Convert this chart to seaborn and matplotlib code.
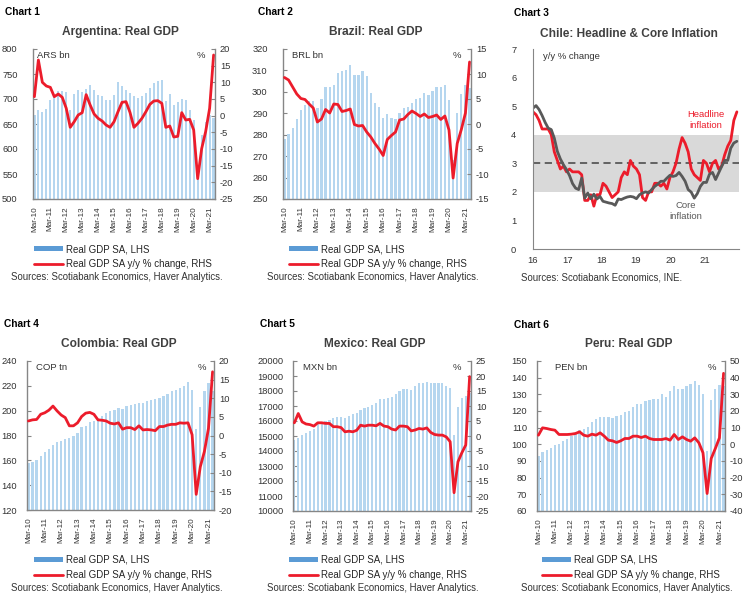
import numpy as np
import matplotlib
matplotlib.use('Agg')
import matplotlib.pyplot as plt
from matplotlib.patches import Patch
from matplotlib.lines import Line2D
import seaborn as sns

# quarterly x labels (Mar-10 .. Mar-21, data runs to Jun-21)
QUARTER_TICKS = ['Mar-10', 'Mar-11', 'Mar-12', 'Mar-13', 'Mar-14', 'Mar-15',
                 'Mar-16', 'Mar-17', 'Mar-18', 'Mar-19', 'Mar-20', 'Mar-21']
CHILE_TICKS = ['16', '17', '18', '19', '20', '21']

arg_gdp = [668, 679, 674, 681, 698, 708, 716, 716, 714, 678, 710, 719,
           714, 721, 728, 719, 708, 706, 698, 699, 708, 735, 726, 718,
           712, 706, 703, 706, 712, 722, 733, 737, 738, 697, 710, 689,
           694, 701, 698, 679, 659, 548, 628, 655, 668, 662]
arg_yoy = [5.7, 16.7, 10.0, 8.9, 8.5, 5.7, 6.5, 5.5, 2.2, -3.5, -1.8, 0.2,
           0.9, 6.3, 3.2, 0.5, -0.8, -1.6, -2.8, -3.5, -1.8, 1.2, 4.0, 4.2,
           1.0, -3.5, -2.3, -0.8, 1.2, 3.4, 4.4, 4.5, 3.7, -3.5, -3.1, -6.4,
           -6.2, 0.9, -1.3, -1.1, -4.3, -18.9, -9.9, -4.8, 2.2, 18.2]

bra_gdp = [277.8, 280.3, 283.3, 287.3, 291.3, 294.0, 295.5, 295.8, 292.3, 296.7, 302.2, 302.2,
           303.3, 308.8, 309.5, 310.0, 312.7, 308.0, 308.0, 309.5, 307.2, 299.4, 295.0, 292.8,
           287.7, 289.5, 287.7, 287.3, 290.3, 292.3, 292.8, 294.7, 296.6, 297.0, 299.4, 298.3,
           300.5, 302.2, 302.2, 303.0, 296.0, 268.0, 290.0, 299.0, 303.0, 302.0]
bra_yoy = [9.3, 8.8, 7.4, 6.0, 5.1, 4.9, 4.0, 3.2, 0.4, 1.0, 2.9, 2.2,
           4.0, 3.9, 2.5, 2.7, 3.0, -0.1, -0.4, -0.3, -1.6, -2.6, -3.9, -5.0,
           -6.3, -3.1, -2.3, -1.6, 0.8, 1.0, 1.9, 2.6, 2.1, 1.5, 2.0, 1.3,
           1.5, 1.8, 0.9, 1.6, -1.2, -10.8, -3.9, -1.1, 2.2, 12.4]

col_gdp = [158, 159, 160.5, 163.5, 167, 169.5, 172.5, 174.5, 175.5, 177, 178, 179.5,
           182, 186.5, 188, 190.5, 191.5, 193.5, 196, 198, 199.5, 200.5, 202.5, 201.5,
           203.5, 204.5, 205.5, 206.5, 206.5, 207.5, 208.5, 209, 210, 211.5, 213.5, 215.5,
           216.5, 218, 220, 223, 217, 185, 203, 215.5, 222, 216]
col_yoy = [3.9, 4.2, 4.3, 5.7, 6.1, 6.8, 7.9, 6.6, 5.5, 4.8, 2.6, 2.6,
           3.4, 5.1, 6.0, 6.2, 5.7, 4.2, 4.1, 3.9, 3.3, 3.1, 3.4, 1.7,
           2.1, 2.1, 1.6, 2.6, 1.5, 1.6, 1.5, 1.3, 2.4, 2.4, 2.8, 3.0,
           3.0, 3.4, 3.3, 3.4, 0.2, -15.8, -8.4, -4.3, 1.9, 17.1]

mex_gdp = [14766, 14900, 15056, 15212, 15323, 15434, 15835, 15902, 15991, 16058, 16170, 16281,
           16281, 16214, 16325, 16437, 16503, 16726, 16838, 16949, 17060, 17216, 17461, 17439,
           17550, 17617, 17773, 17996, 18107, 18107, 18062, 18330, 18508, 18552, 18575, 18508,
           18508, 18508, 18508, 18330, 18174, 15050, 16949, 17550, 17700, 17850]
mex_yoy = [4.4, 7.5, 4.7, 4.0, 3.8, 3.3, 4.4, 4.4, 4.2, 4.2, 3.1, 3.1,
           2.8, 1.4, 1.6, 1.4, 1.9, 3.6, 3.3, 3.6, 3.6, 3.4, 4.2, 3.3,
           3.1, 2.3, 2.0, 3.3, 3.3, 3.1, 1.7, 2.0, 2.5, 2.3, 2.7, 1.2,
           0.5, 0.3, 0.3, -0.3, -1.9, -18.9, -8.6, -5.6, -3.0, 19.8]

per_gdp = [93, 95.5, 96.5, 98, 99.5, 100.5, 102, 103.5, 105, 106.5, 108.5, 109,
           110.5, 113.5, 115, 116.5, 116.5, 116.5, 116, 117, 117.5, 119.5, 120, 122.5,
           124, 124.5, 126, 126.5, 127.5, 127.5, 130, 128.5, 132, 135, 133.5, 133.5,
           135, 136.5, 138, 135.5, 130, 96, 126.5, 133, 135.5, 135]
per_yoy = [5.5, 9.9, 9.5, 8.9, 8.5, 5.9, 5.9, 5.9, 6.1, 6.5, 7.5, 5.5,
           4.9, 6.1, 5.5, 6.9, 4.9, 2.5, 2.1, 1.1, 2.1, 3.5, 3.5, 4.9,
           4.9, 4.1, 4.9, 3.5, 2.9, 2.9, 2.9, 3.5, 2.5, 5.9, 2.9, 4.5,
           2.9, 1.9, 3.9, 0.9, -5.1, -29.5, -8.5, -2.5, 3.9, 42.6]

# Chile monthly, Jan-16 .. Aug-21
chile_headline = [4.8, 4.7, 4.5, 4.2, 4.2, 4.2, 4.0, 3.4, 3.1, 2.8, 2.9, 2.7,
                  2.8, 2.7, 2.7, 2.7, 2.6, 1.7, 1.7, 1.9, 1.5, 1.9, 1.9, 2.3,
                  2.2, 2.0, 1.8, 1.9, 2.0, 2.5, 2.7, 2.6, 3.1, 2.9, 2.8, 2.6,
                  1.8, 1.7, 2.0, 2.0, 2.3, 2.3, 2.2, 2.3, 2.1, 2.5, 2.7, 3.0,
                  3.5, 3.9, 3.7, 3.4, 2.8, 2.6, 2.5, 2.4, 3.1, 3.0, 2.7, 3.0,
                  3.1, 2.8, 2.9, 3.3, 3.6, 3.8, 4.5, 4.8]
chile_core = [4.93, 5.02, 4.88, 4.67, 4.43, 4.23, 4.18, 3.88, 3.42, 3.15, 2.95, 2.78,
              2.57, 2.29, 2.13, 2.08, 2.48, 1.78, 1.96, 1.76, 1.92, 1.75, 1.84, 1.67,
              1.64, 1.61, 1.59, 1.53, 1.75, 1.73, 1.78, 1.82, 1.84, 1.82, 1.76, 1.90,
              1.96, 2.00, 1.96, 2.08, 2.19, 2.27, 2.37, 2.37, 2.48, 2.58, 2.54, 2.57,
              2.68, 2.54, 2.37, 2.08, 1.99, 1.78, 1.94, 2.19, 2.33, 2.33, 2.62, 2.68,
              2.43, 2.66, 2.89, 3.10, 3.10, 3.53, 3.71, 3.77]

RED = '#ec1c2b'
BAR = '#b5d6ef'
BAR_LEG = '#5b9bd5'
GREY = '#595959'
AXIS = '#868686'
TXT = '#333333'
SOURCES = 'Sources: Scotiabank Economics, Haver Analytics.'

sns.set_style('white')
plt.rcParams['font.family'] = ['Liberation Sans', 'DejaVu Sans']
plt.rcParams['axes.unicode_minus'] = False

W, H = 750, 601
fig = plt.figure(figsize=(7.5, 6.01), dpi=100)


def px_rect(l, t, r, b):
    return [l / W, 1 - b / H, (r - l) / W, (b - t) / H]


def ftext(x, y, s, **kw):
    fig.text(x / W, 1 - y / H, s, **kw)


def style_axis(ax, ypad=2):
    ax.tick_params(axis='y', direction='in', length=3, color=AXIS, labelcolor=TXT, labelsize=6.7, pad=ypad)
    ax.tick_params(axis='x', direction='out', length=3, color=AXIS, labelcolor=TXT, pad=2)
    ax.set_xlabel('')
    ax.set_ylabel('')


def gdp_panel(rect, gdp, yoy, lhs, rhs, unit, unit_x, pct_x, leg_xy, lpad):
    ax = fig.add_axes(rect)
    idx = np.arange(len(gdp))
    sns.barplot(x=idx, y=gdp, ax=ax, color=BAR, saturation=1, width=0.56,
                errorbar=None, native_scale=True, linewidth=0)
    ax.set_ylim(lhs[0], lhs[1])
    ax.set_yticks(np.arange(lhs[0], lhs[1] + lhs[2] / 2, lhs[2]))
    ax.set_xticks(np.arange(0, len(gdp), 4))
    ax.set_xticklabels(QUARTER_TICKS, rotation=90, fontsize=5.9)
    ax2 = ax.twinx()
    sns.lineplot(x=idx, y=yoy, ax=ax2, color=RED, linewidth=2)
    ax2.set_ylim(rhs[0], rhs[1])
    ax2.set_yticks(np.arange(rhs[0], rhs[1] + rhs[2] / 2, rhs[2]))
    ax.set_xlim(-0.35, len(gdp) - 0.65)
    style_axis(ax, lpad)
    style_axis(ax2, 3.5)
    for a in (ax, ax2):
        for s in a.spines.values():
            s.set_color(AXIS)
            s.set_linewidth(1)
    ax.spines['top'].set_visible(False)
    ax.spines['right'].set_visible(False)
    ax2.spines['top'].set_visible(False)
    ax2.spines['left'].set_visible(False)
    ax2.spines['bottom'].set_visible(False)
    ax2.text(unit_x, 0.985, unit, transform=ax.transAxes, ha='left', va='top', fontsize=6.8, color=TXT)
    ax2.text(pct_x, 0.985, '%', transform=ax.transAxes, ha='center', va='top', fontsize=6.8, color=TXT)
    handles = [Patch(facecolor=BAR_LEG, edgecolor='none'), Line2D([], [], color=RED, lw=2)]
    ax2.legend(handles, ['Real GDP SA, LHS', 'Real GDP SA y/y % change, RHS'],
               loc='upper left', bbox_to_anchor=(leg_xy[0] / W, 1 - leg_xy[1] / H),
               bbox_transform=fig.transFigure, frameon=False, fontsize=7.0,
               handlelength=3.0, handleheight=0.5, handletextpad=0.3,
               labelspacing=0.5, borderpad=0, borderaxespad=0)
    return ax


# top row
gdp_panel(px_rect(33, 49, 215, 199), arg_gdp, arg_yoy, (500, 800, 50), (-25, 20, 5),
          'ARS bn', 0.02, 0.92, (34, 244), 11)
gdp_panel(px_rect(283, 49, 471, 199), bra_gdp, bra_yoy, (250, 320, 10), (-15, 15, 5),
          'BRL bn', 0.05, 0.925, (289, 244), 11)
# bottom row
gdp_panel(px_rect(27, 361, 214, 510), col_gdp, col_yoy, (120, 240, 20), (-20, 20, 5),
          'COP tn', 0.05, 0.935, (34, 555), 7)
gdp_panel(px_rect(293, 361, 471, 511), mex_gdp, mex_yoy, (10000, 20000, 1000), (-25, 25, 5),
          'MXN bn', 0.056, 0.92, (289, 555), 7)
gdp_panel(px_rect(537, 361, 725, 511), per_gdp, per_yoy, (60, 150, 10), (-40, 50, 10),
          'PEN bn', 0.096, 0.93, (542, 555), 7)

# Chile inflation
ax = fig.add_axes(px_rect(533, 49, 739, 249))
months = np.arange(len(chile_headline))
ax.axhspan(2, 4, color='#d9d9d9', lw=0, zorder=0)
ax.axhline(3, color=GREY, lw=1.3, ls=(0, (4, 2.5)), zorder=1)
sns.lineplot(x=months, y=chile_headline, ax=ax, color=RED, linewidth=2)
sns.lineplot(x=months, y=chile_core, ax=ax, color=GREY, linewidth=2)
xmax = len(chile_headline) - 0.3
ax.set_xlim(0, xmax)
ax.set_ylim(0, 7)
ax.set_yticks(range(0, 8))
ax.set_xticks(np.linspace(0, xmax, 7)[:-1])
ax.set_xticklabels(CHILE_TICKS, fontsize=6.8)
style_axis(ax, 12)
for s in ['top', 'right']:
    ax.spines[s].set_visible(False)
for s in ['left', 'bottom']:
    ax.spines[s].set_color(AXIS)
ax.text(0.05, 0.985, 'y/y % change', transform=ax.transAxes, ha='left', va='top', fontsize=6.8, color=TXT)
ax.text(0.839, 0.645, 'Headline\ninflation', transform=ax.transAxes, ha='center', va='center',
        fontsize=6.8, color=RED, linespacing=1.15)
ax.text(0.741, 0.19, 'Core\ninflation', transform=ax.transAxes, ha='center', va='center',
        fontsize=6.8, color=GREY, linespacing=1.15)

# chart numbers, titles and sources
narrow = ['Liberation Sans Narrow', 'Liberation Sans', 'DejaVu Sans']
labels = [(5, 12, 'Chart 1'), (258, 12, 'Chart 2'), (514, 13, 'Chart 3'),
          (4, 324, 'Chart 4'), (260, 324, 'Chart 5'), (514, 325, 'Chart 6')]
for x, y, s in labels:
    ftext(x, y, s, ha='left', va='center', fontsize=7.3, fontweight='bold', color='black', family=narrow)

titles = [(120, 32, 'Argentina: Real GDP'), (376, 32, 'Brazil: Real GDP'),
          (629, 34, 'Chile: Headline & Core Inflation'), (119, 344, 'Colombia: Real GDP'),
          (375, 344, 'Mexico: Real GDP'), (629, 344, 'Peru: Real GDP')]
for x, y, s in titles:
    ftext(x, y, s, ha='center', va='center', fontsize=8.6, fontweight='bold', color='#404040')

sources = [(11, 277, SOURCES), (267, 277, SOURCES), (521, 277, 'Sources: Scotiabank Economics, INE.'),
           (11, 588, SOURCES), (267, 588, SOURCES), (521, 588, SOURCES)]
for x, y, s in sources:
    ftext(x, y, s, ha='left', va='center', fontsize=6.9, color=TXT)

fig.savefig('out.png', dpi=100, facecolor='white')
